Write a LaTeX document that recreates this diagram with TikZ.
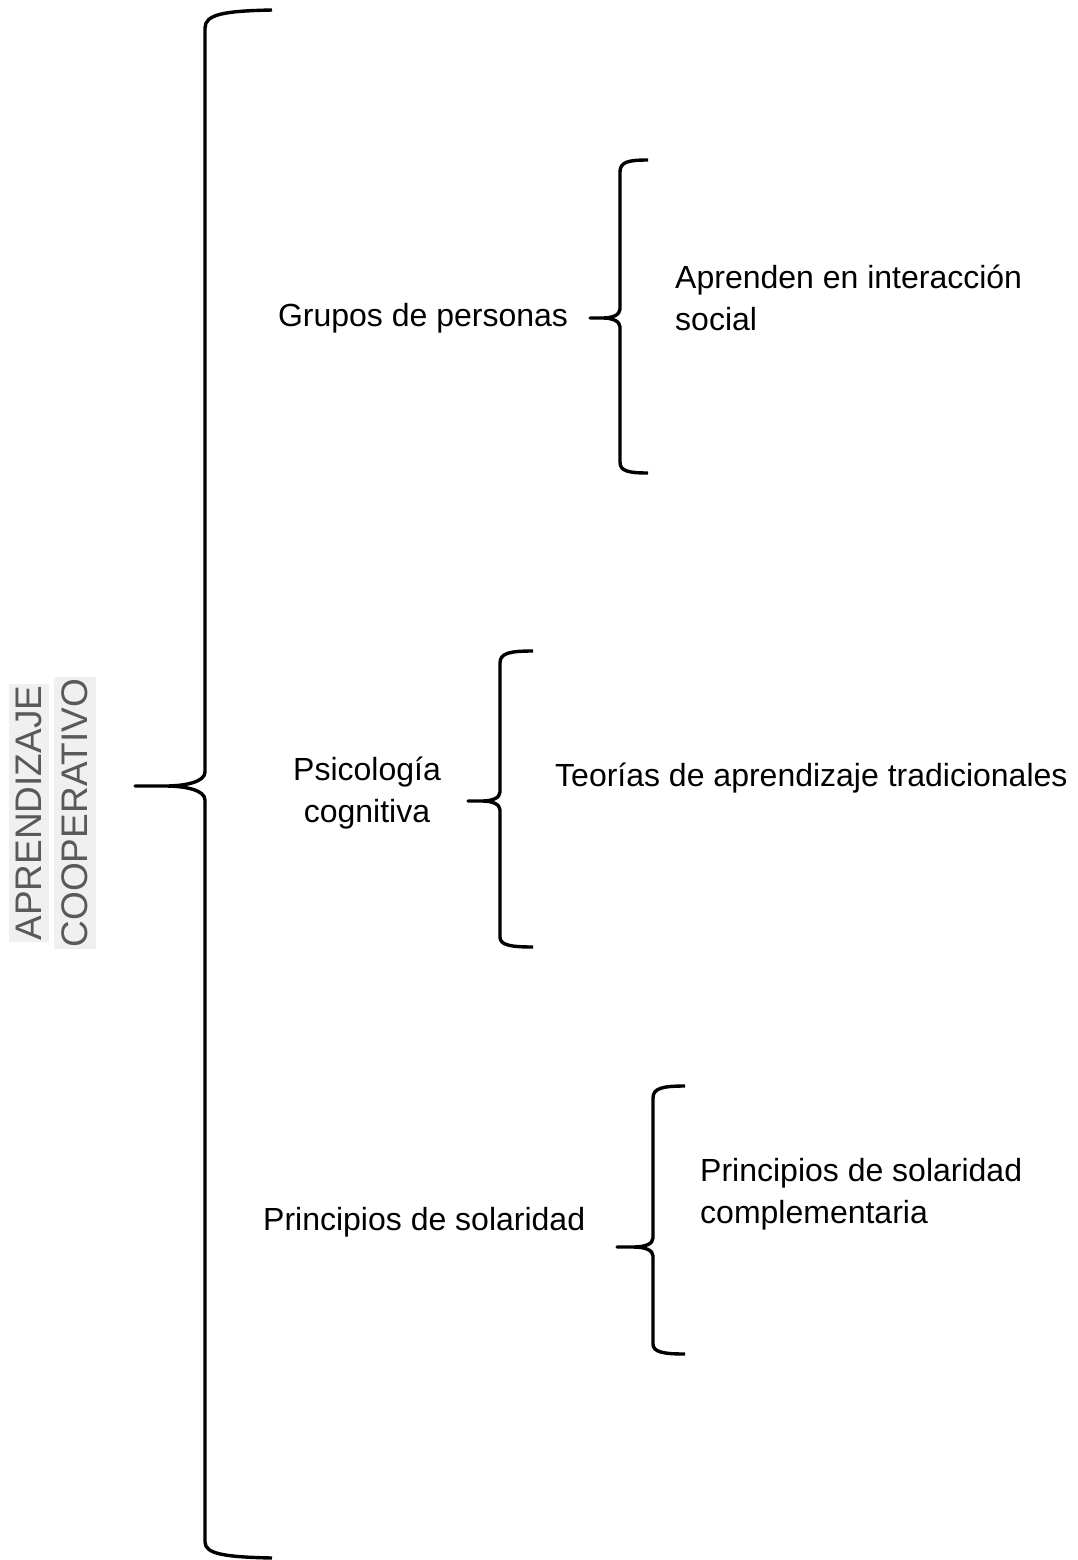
\documentclass[tikz,border=0pt]{standalone}
\usepackage{fontspec}
\setmainfont{Liberation Sans}
\usetikzlibrary{positioning}
\definecolor{titlefill}{HTML}{F0F0F0}
\definecolor{titletext}{HTML}{595959}

\begin{document}
\begin{tikzpicture}[x=1pt, y=-1pt,
    every node/.style={inner sep=0pt, font=\fontsize{32}{42}\selectfont},
    title/.style={rotate=90, fill=titlefill, text=titletext, inner xsep=1.5pt, inner ysep=7.5pt,
        font=\fontsize{37}{44}\selectfont},
    brace/.style={line width=3.4pt, line join=round}]
  \useasboundingbox (0,0) rectangle (1077,1560);

		  % Nodes
		  \node[title] (apr) at (29,813) {APRENDIZAJE};
		  \node[title] (coop) at (75,813) {COOPERATIVO};

		  \node (grupos) at (423,318) {Grupos de personas};
		  \node[anchor=west, align=left] (social) at (675,298) {Aprenden en interacción\\social};

		  \node[align=center] (psico) at (367,793) {Psicología\\cognitiva};
		  \node[anchor=west] (teorias) at (555,778) {Teorías de aprendizaje tradicionales};

		  \node[anchor=west] (princ) at (263,1222) {Principios de solaridad};
		  \node[anchor=west, align=left] (compl) at (700,1194) {Principios de solaridad\\complementaria};

		  % Braces
		  \draw[brace] (272,10) .. controls (225,11) and (205,14) .. (205,28) -- (205,772)
		      .. controls (205,782) and (185,786) .. (165,786) -- (135,786) -- (165,786)
		      .. controls (185,786) and (205,790) .. (205,800) -- (205,1542)
		      .. controls (205,1554) and (225,1557) .. (272,1558);

		  \draw[brace] (648,160) .. controls (628,160) and (620,162) .. (620,172) -- (620,309)
		      .. controls (620,315) and (612,318) .. (603,318) -- (590,318) -- (603,318)
		      .. controls (612,318) and (620,321) .. (620,327) -- (620,462)
		      .. controls (620,471) and (628,473) .. (648,473);

		  \draw[brace] (533,651) .. controls (510,651) and (500,653) .. (500,663) -- (500,792)
		      .. controls (500,798) and (492,801) .. (482,801) -- (468,801) -- (482,801)
		      .. controls (492,801) and (500,804) .. (500,810) -- (500,937)
		      .. controls (500,945) and (510,947) .. (533,947);

		  \draw[brace] (685,1086) .. controls (663,1086) and (653,1088) .. (653,1098) -- (653,1238)
		      .. controls (653,1244) and (645,1247) .. (633,1247) -- (617,1247) -- (633,1247)
		      .. controls (645,1247) and (653,1250) .. (653,1256) -- (653,1344)
		      .. controls (653,1352) and (663,1354) .. (685,1354);
\end{tikzpicture}
\end{document}
